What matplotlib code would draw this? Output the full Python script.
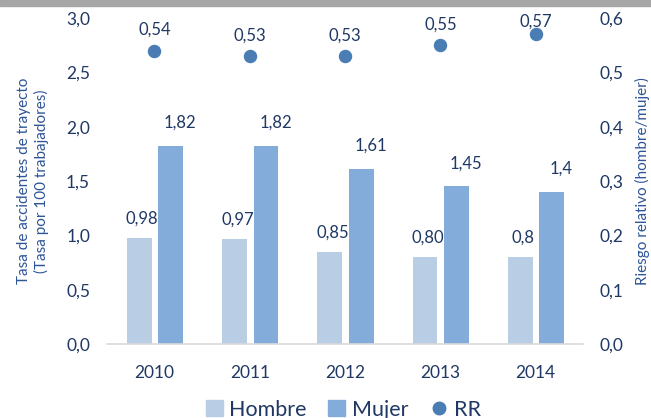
import numpy as np
import matplotlib
matplotlib.use("Agg")
import matplotlib.pyplot as plt
from matplotlib.lines import Line2D
from matplotlib.patches import Patch

years = ["2010", "2011", "2012", "2013", "2014"]
hombre = [0.98, 0.97, 0.85, 0.80, 0.80]
hombre_txt = ["0,98", "0,97", "0,85", "0,80", "0,8"]
mujer = [1.82, 1.82, 1.61, 1.45, 1.40]
mujer_txt = ["1,82", "1,82", "1,61", "1,45", "1,4"]
rr = [0.54, 0.53, 0.53, 0.55, 0.57]
rr_txt = ["0,54", "0,53", "0,53", "0,55", "0,57"]
left_ticks = [0.0, 0.5, 1.0, 1.5, 2.0, 2.5, 3.0]
right_ticks = [0.0, 0.1, 0.2, 0.3, 0.4, 0.5, 0.6]

c_hombre = "#b9cde5"
c_mujer = "#84acda"
c_rr = "#4a7db4"
c_text = "#1f3864"
c_label = "#2e5597"

plt.rcParams["font.family"] = ["Lato", "DejaVu Sans"]

fig = plt.figure(figsize=(6.51, 4.18), dpi=100)
ax = fig.add_axes([0.164, 0.177, 0.732, 0.780])
ax2 = ax.twinx()

x = np.arange(len(years))
w = 0.26
ax.bar(x - 0.16, hombre, w, color=c_hombre, zorder=2)
ax.bar(x + 0.17, mujer, w, color=c_mujer, zorder=2)
for i in range(len(years)):
    ax.annotate(hombre_txt[i], (x[i] - 0.13, hombre[i]), xytext=(0, 8),
                textcoords="offset points", ha="center", va="bottom",
                fontsize=12, color=c_text)
    ax.annotate(mujer_txt[i], (x[i] + 0.27, mujer[i]), xytext=(0, 11),
                textcoords="offset points", ha="center", va="bottom",
                fontsize=12, color=c_text)

ax2.scatter(x, rr, s=75, color=c_rr, zorder=3)
# last label sits closer to its dot so it stays clear of the top edge
rr_pad = [9, 9, 9, 9, 3]
for i in range(len(years)):
    ax2.annotate(rr_txt[i], (x[i], rr[i]), xytext=(0, rr_pad[i]),
                 textcoords="offset points", ha="center", va="bottom",
                 fontsize=12, color=c_text)

ax.set_xlim(-0.5, len(years) - 0.5)
ax.set_ylim(0, 3.0)
ax2.set_ylim(0, 0.6)
ax.set_xticks(x)
ax.set_xticklabels(years, fontsize=12.5, color=c_text)
ax.set_yticks(left_ticks)
ax.set_yticklabels([f"{v:.1f}".replace(".", ",") for v in left_ticks],
                   fontsize=12.5, color=c_text)
ax2.set_yticks(right_ticks)
ax2.set_yticklabels([f"{v:.1f}".replace(".", ",") for v in right_ticks],
                    fontsize=12.5, color=c_text)
ax.tick_params(axis="x", length=0, pad=15)
ax.tick_params(axis="y", length=0, pad=12)
ax2.tick_params(axis="y", length=0, pad=12)

for a in (ax, ax2):
    for s in ("top", "left", "right"):
        a.spines[s].set_visible(False)
ax2.spines["bottom"].set_visible(False)
ax.spines["bottom"].set_color("#d9d9d9")
ax.spines["bottom"].set_linewidth(1.2)

ax.set_ylabel("Tasa de accidentes de trayecto\n(Tasa por 100 trabajadores)",
              fontsize=11, color=c_label, labelpad=12, linespacing=1.3)
ax2.set_ylabel("Riesgo relativo (hombre/mujer)", fontsize=11,
               color=c_label, labelpad=8)

handles = [Patch(color=c_hombre), Patch(color=c_mujer),
           Line2D([], [], marker="o", ls="", color=c_rr, markersize=9)]
fig.legend(handles, ["Hombre", "Mujer", "RR"], loc="lower center",
           bbox_to_anchor=(0.527, -0.05), ncol=3, frameon=False,
           fontsize=15.5, labelcolor=c_text, handlelength=0.8,
           handletextpad=0.3, columnspacing=1.0)

# gray strip along the top edge
fig.add_artist(plt.Rectangle((0, 0.985), 1, 0.015, transform=fig.transFigure,
                             color="#a6a6a6"))

fig.savefig("out.png", dpi=100)
